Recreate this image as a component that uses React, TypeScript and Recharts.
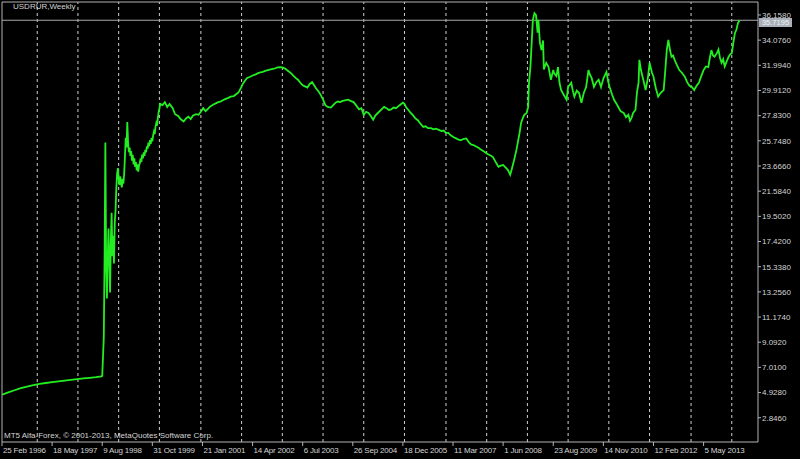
import React from 'react'
import { LineChart, Line, XAxis, YAxis, ReferenceLine } from 'recharts'

// week index counted from the first bar (25 Feb 1996)
const weeks = [
  0, 8, 16, 24, 32, 40, 48, 56, 64, 72,
  80, 88, 96, 104, 112, 120, 127, 128, 129, 130,
  131, 132, 133, 134, 135, 136, 137, 138, 139, 140,
  141, 142, 143, 144, 145, 146, 147, 148, 149, 150,
  151, 152, 153, 154, 155, 156, 157, 158, 159, 160,
  161, 162, 163, 164, 165, 166, 167, 168, 169, 170,
  171, 172, 173, 174, 175, 176, 177, 178, 179, 180,
  181, 182, 183, 184, 185, 186, 187, 188, 189, 190,
  191, 192, 193, 194, 195, 196, 197, 198, 199, 200,
  201, 202,
  205, 208, 211, 214, 218, 221, 225, 228, 232, 235,
  238, 241, 244, 248, 251, 254, 257, 260, 263, 266,
  270, 273, 276, 279, 282, 285, 289, 292, 296, 299,
  302, 305, 307, 310, 313, 317, 320, 324, 327, 330,
  333, 337, 340, 343, 346, 349, 352, 356, 359, 362,
  365, 369, 372, 375, 378, 381, 384, 387, 390, 393,
  396, 399, 401, 404, 407, 410, 413, 416, 420, 423,
  426, 429, 432, 435, 438, 442, 445, 449, 452, 456,
  459, 462, 465, 468, 471, 474, 477, 480, 484, 488,
  491, 494, 497, 500, 503, 506, 509, 512, 514, 516,
  519, 522, 525, 528, 531, 534, 538, 541, 544, 548,
  551, 554, 558, 561, 564, 567, 570, 573, 577, 580,
  583, 586, 589, 593, 596, 599, 602, 605, 609, 612,
  616, 619, 622, 625, 627, 630, 634, 637, 640, 643,
  646, 649, 651, 654, 657, 659, 661, 663, 665, 667,
  670, 672, 673, 675, 676, 678, 680, 682, 684, 685,
  687, 689, 691, 692, 695, 698, 701, 704, 705, 708,
  710, 712, 714, 717, 721, 723, 727, 729, 731, 734,
  737, 740, 743, 746, 749, 751, 753, 756, 759, 762,
  765, 768, 772, 774, 776, 779, 782, 785, 787, 790,
  794, 797, 800, 802, 804, 806, 809, 811, 813, 814,
  816, 819, 822, 825, 827, 830, 832, 835, 838, 841,
  845, 847, 849, 851, 853, 855, 857, 859, 862, 865,
  868, 872, 875, 878, 881, 884, 887, 890, 893, 896,
  899, 902, 904, 906, 908, 910, 913, 915, 917, 919,
  921, 923, 926, 928, 930, 932, 934, 936, 938, 940,
  942,
]

const closes = [
  4.75, 4.95, 5.12, 5.3, 5.42, 5.55, 5.64, 5.72, 5.8, 5.86,
  5.92, 5.98, 6.04, 6.1, 6.15, 6.2, 6.26, 6.3, 7.9, 9.5,
  16.0, 25.6, 15.5, 12.7, 16.0, 18.5, 15.9, 13.2, 17.5, 19.8,
  16.2, 17.9, 15.6, 19.0, 20.0, 21.8, 23.0, 23.5, 22.6, 22.1,
  22.8, 22.3, 21.9, 22.6, 22.2, 23.0, 24.4, 26.0, 25.2, 27.3,
  25.6, 24.8, 25.2, 24.5, 24.9, 24.1, 24.6, 23.8, 24.3, 23.6,
  24.0, 23.3, 23.8, 23.2, 23.7, 23.9, 24.3, 24.0, 24.6, 24.3,
  24.8, 24.5, 25.0, 24.8, 25.3, 25.1, 25.6, 25.3, 25.8, 25.5,
  26.0, 25.7, 26.2, 26.5, 26.3, 26.9, 27.2, 27.0, 27.6, 28.1,
  28.4, 28.8,
  28.7, 28.95, 28.55, 28.8, 28.45, 27.95, 27.8, 27.55, 27.35, 27.6,
  27.75, 27.55, 27.85, 27.95, 27.9, 28.15, 28.45, 28.2, 28.4, 28.6,
  28.75, 28.85, 28.95, 28.98, 29.1, 29.2, 29.3, 29.4, 29.45, 29.6,
  29.75, 30.1, 30.4, 30.7, 30.95, 31.05, 31.15, 31.25, 31.35, 31.4,
  31.45, 31.55, 31.6, 31.65, 31.7, 31.75, 31.82, 31.85, 31.8, 31.7,
  31.55, 31.35, 31.15, 30.95, 30.8, 30.55, 30.35, 30.25, 30.15, 30.45,
  30.6, 30.3, 30.1, 29.85, 29.55, 29.15, 28.7, 28.55, 28.5, 28.7,
  28.9, 29.0, 28.95, 29.05, 29.1, 29.15, 29.05, 28.95, 28.7, 28.35,
  28.45, 27.9, 28.15, 28.05, 27.8, 27.5, 27.85, 28.05, 28.3, 28.55,
  28.45, 28.3, 28.35, 28.5, 28.45, 28.6, 28.75, 28.9, 28.8, 28.55,
  28.3, 28.05, 27.85, 27.6, 27.45, 27.2, 26.9, 26.95, 26.8, 26.8,
  26.7, 26.75, 26.65, 26.55, 26.6, 26.4, 26.4, 26.2, 26.05, 25.95,
  25.85, 25.8, 25.9, 25.95, 25.65, 25.45, 25.4, 25.3, 25.15, 25.0,
  24.85, 24.7, 24.6, 24.5, 24.4, 24.05, 23.6, 23.7, 23.75, 23.55,
  23.35, 22.95, 23.4, 24.15, 25.0, 25.7, 26.4, 27.25, 27.6, 27.9,
  28.05, 28.55, 30.5, 32.0, 33.3, 35.75, 36.3, 36.15, 34.7, 35.75,
  33.85, 33.25, 34.05, 31.65, 32.2, 31.85, 30.8, 31.6, 31.35, 31.1,
  31.85, 30.55, 29.95, 29.6, 29.15, 30.2, 30.55, 29.9, 29.4, 29.9,
  29.7, 28.9, 29.7, 30.2, 31.6, 31.2, 30.95, 30.2, 30.6, 30.8,
  30.2, 30.9, 31.45, 30.7, 30.2, 29.6, 29.1, 28.8, 28.55, 28.2,
  28.05, 27.7, 27.9, 27.4, 27.65, 28.05, 28.3, 29.8, 30.55, 32.45,
  31.6, 30.8, 29.95, 31.0, 32.2, 31.4, 31.05, 30.1, 29.4, 29.7,
  29.95, 31.5, 33.25, 34.1, 33.3, 32.7, 32.8, 32.45, 32.0, 31.6,
  31.4, 31.05, 30.6, 30.3, 30.2, 29.95, 30.3, 30.55, 31.1, 31.6,
  31.9, 31.85, 32.6, 33.25, 32.8, 32.7, 33.0, 33.3, 32.6, 32.2,
  32.5, 31.9, 32.4, 32.7, 32.9, 33.0, 33.85, 34.65, 34.95, 35.5,
  35.72,
]

const lastPrice = 35.7195

const xTickWeeks = [0, 64, 128, 192, 256, 320, 384, 448, 512, 576, 640, 704, 768, 832, 896]
const xTickLabels = [
  '25 Feb 1996', '18 May 1997', '9 Aug 1998', '31 Oct 1999', '21 Jan 2001',
  '14 Apr 2002', '6 Jul 2003', '26 Sep 2004', '18 Dec 2005', '11 Mar 2007',
  '1 Jun 2008', '23 Aug 2009', '14 Nov 2010', '12 Feb 2012', '5 May 2013',
]

const yTicks = [
  2.846, 4.928, 7.01, 9.092, 11.174, 13.256, 15.338, 17.42, 19.502,
  21.584, 23.666, 25.748, 27.83, 29.912, 31.994, 34.076, 36.158,
]

const separatorYears = [
  1997, 1998, 1999, 2000, 2001, 2002, 2003, 2004, 2005,
  2006, 2007, 2008, 2009, 2010, 2011, 2012, 2013, 2014,
]

const firstBar = Date.UTC(1996, 1, 25)
const weekMs = 7 * 86400000
const separatorWeeks = separatorYears.map((y) => Math.ceil((Date.UTC(y, 0, 1) - firstBar) / weekMs))

const data = weeks.map((w, i) => ({ w, close: closes[i] }))

const FONT = '"Liberation Sans", Arial, sans-serif'
const TEXT = '#d4d4d4'
const FRAME = '#b4b4b4'
const X_MAX = 965.5
const Y_MIN = 0.84
const Y_MAX = 37.23

function XTick(props: any) {
  const { x, y, payload } = props
  const idx = xTickWeeks.indexOf(payload.value)
  return (
    <text x={x + 1} y={y + 7} fill={TEXT} fontSize={8} fontFamily={FONT} textAnchor="start" letterSpacing={-0.2}>
      {xTickLabels[idx]}
    </text>
  )
}

export default function App() {
  return (
    <div style={{ position: 'fixed', left: 0, top: 0, width: 800, height: 459, background: '#000', overflow: 'hidden' }}>
      <LineChart width={800} height={459} data={data} margin={{ top: 2, right: 0, bottom: 0, left: 2 }}>
        <XAxis
          dataKey="w"
          type="number"
          domain={[0, X_MAX]}
          ticks={xTickWeeks}
          interval={0}
          height={17}
          tickSize={4}
          tickMargin={0}
          axisLine={{ stroke: FRAME }}
          tickLine={{ stroke: FRAME }}
          tick={<XTick />}
          allowDataOverflow
        />
        <YAxis
          orientation="right"
          type="number"
          domain={[Y_MIN, Y_MAX]}
          ticks={yTicks}
          interval={0}
          width={42}
          tickSize={3}
          tickMargin={1}
          axisLine={{ stroke: FRAME }}
          tickLine={{ stroke: FRAME }}
          tick={{ fill: TEXT, fontSize: 8, fontFamily: FONT, textAnchor: 'start' }}
          tickFormatter={(v: number) => v.toFixed(4)}
          allowDataOverflow
        />
        {separatorWeeks.map((w) => (
          <ReferenceLine key={w} x={w} stroke="#d0d0d0" strokeDasharray="3 3" strokeWidth={1} />
        ))}
        <ReferenceLine x={0} stroke={FRAME} />
        <ReferenceLine y={Y_MAX} stroke={FRAME} />
        <ReferenceLine y={lastPrice} stroke="#a8a8a8" />
        <Line
          dataKey="close"
          type="linear"
          stroke="#22ee22"
          strokeWidth={1.8}
          dot={false}
          isAnimationActive={false}
        />
      </LineChart>
      <div style={{ position: 'absolute', left: 13, top: 2, fontFamily: FONT, fontSize: 8, lineHeight: '10px', color: TEXT }}>
        USDRUR,Weekly
      </div>
      <div style={{ position: 'absolute', left: 4, top: 431, fontFamily: FONT, fontSize: 8, lineHeight: '10px', color: TEXT, whiteSpace: 'nowrap' }}>
        MT5 Alfa-Forex, © 2001-2013, MetaQuotes Software Corp.
      </div>
      <div
        style={{
          position: 'absolute', left: 759, top: 18, width: 33, height: 9,
          background: '#a9b0b9', color: '#eef0f2', fontFamily: FONT, fontSize: 7.5,
          lineHeight: '9px', textAlign: 'center',
        }}
      >
        {lastPrice.toFixed(4)}
      </div>
    </div>
  )
}
